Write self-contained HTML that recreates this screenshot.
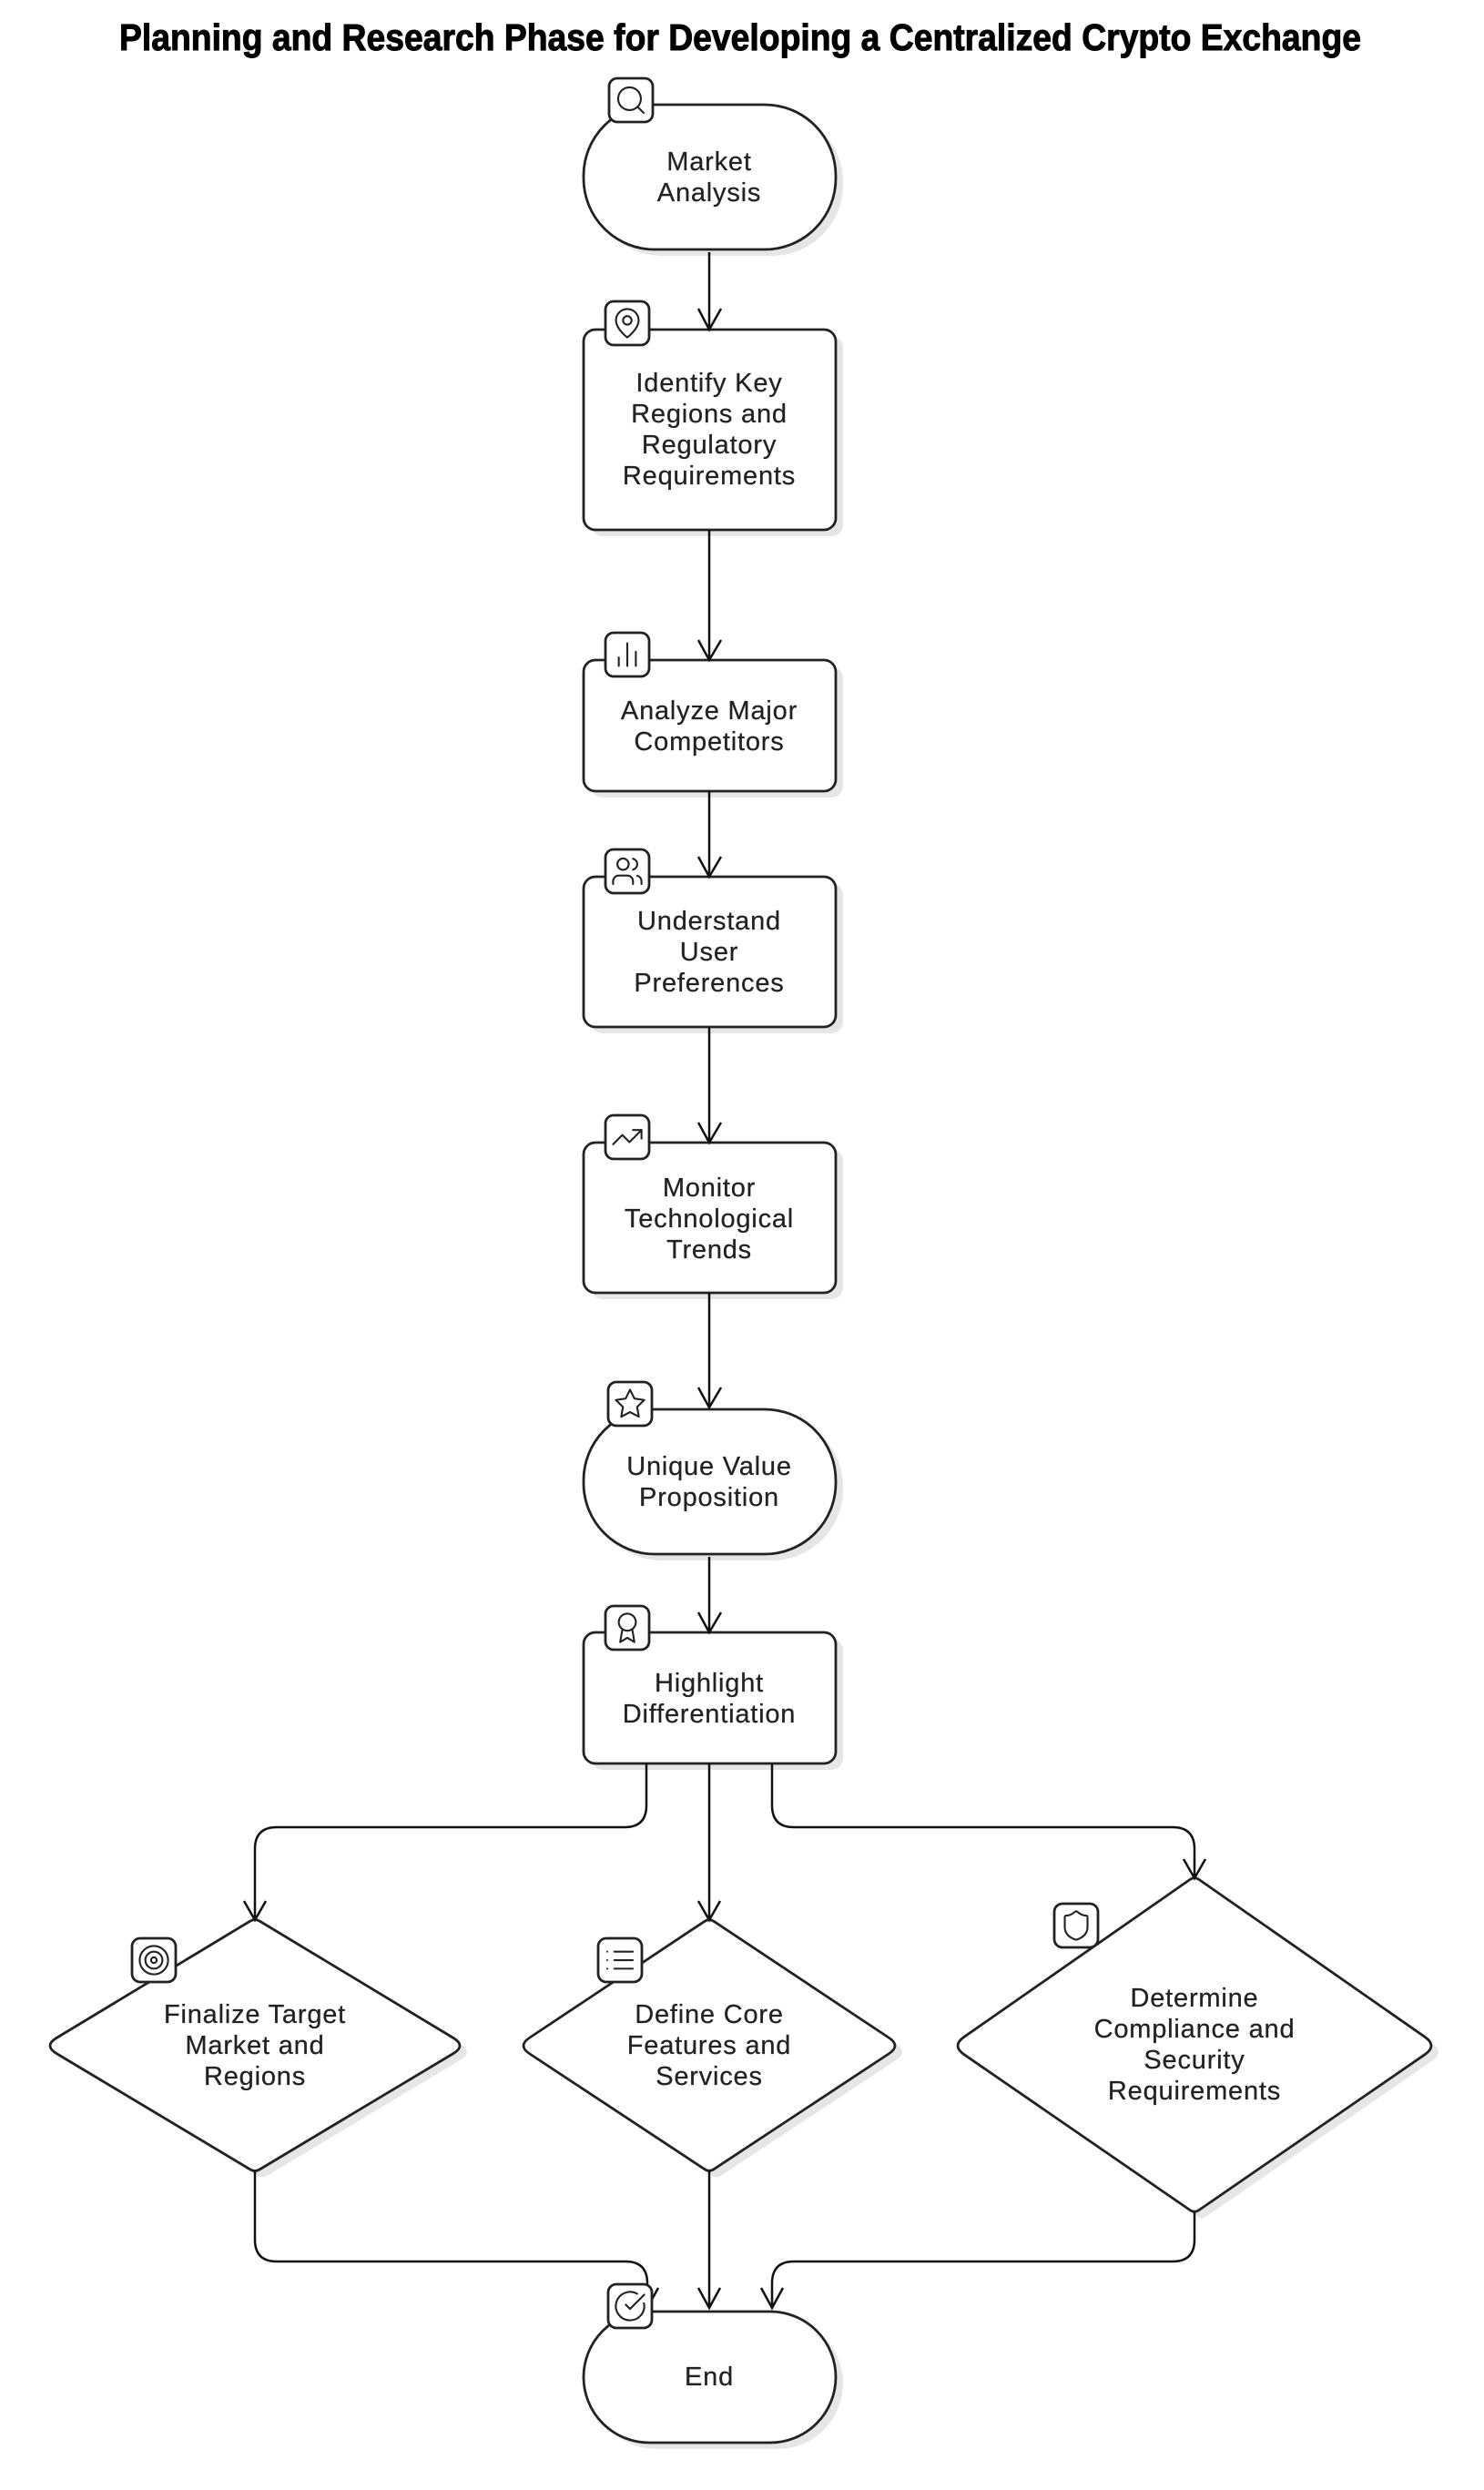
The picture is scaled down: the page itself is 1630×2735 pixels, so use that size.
<!DOCTYPE html>
<html><head><meta charset="utf-8"><style>
html,body{margin:0;padding:0;background:#fff}
svg{display:block}
.t{font-family:"Liberation Sans",sans-serif;font-size:29px;letter-spacing:.8px;fill:#222;stroke:#222;stroke-width:.25;text-anchor:middle}
.ti{font-family:"Liberation Sans",sans-serif;font-size:41px;font-weight:bold;fill:#000;stroke:#000;stroke-width:1;text-anchor:middle}
.n{fill:#fff;stroke:#222;stroke-width:2.8}
.s{fill:#e6e6e6;stroke:none}
.e{fill:none;stroke:#111;stroke-width:2.5}
.b{fill:#fff;stroke:#222;stroke-width:2.8}
.i{fill:none;stroke:#222;stroke-width:1.35;stroke-linecap:round;stroke-linejoin:round}
</style></head><body>
<svg width="1630" height="2735" viewBox="0 0 1630 2735" xmlns="http://www.w3.org/2000/svg">
<rect width="1630" height="2735" fill="#fff"/>
<text class="ti" x="813" y="55" textLength="1364" lengthAdjust="spacingAndGlyphs">Planning and Research Phase for Developing a Centralized Crypto Exchange</text>

<!-- shadows -->
<g class="s" transform="translate(8,7)">
<rect x="641" y="115" width="277" height="159" rx="78" ry="78"/>
<rect x="641" y="362" width="277" height="220" rx="13"/>
<rect x="641" y="725" width="277" height="144" rx="13"/>
<rect x="641" y="963" width="277" height="165" rx="13"/>
<rect x="641" y="1255" width="277" height="165" rx="13"/>
<rect x="641" y="1548" width="277" height="159" rx="78" ry="78"/>
<rect x="641" y="1793" width="277" height="144" rx="13"/>
<rect x="641" y="2539" width="277" height="144" rx="72"/>
<path d="M275,2110 Q280,2107 285,2110 L498,2238.500 Q512,2247 498,2255.500 L285,2383 Q280,2386 275,2383 L62,2255.500 Q48,2247 62,2238.500 Z"/>
<path d="M774,2110.300 Q779,2107 784,2110.300 L976,2238 Q990,2247 976,2256 L784,2382.700 Q779,2386 774,2382.700 L582,2256 Q568,2247 582,2238 Z"/>
<path d="M1307,2064.500 Q1312,2061 1317,2064.500 L1565,2237.300 Q1579,2247 1565,2256.700 L1317,2427.500 Q1312,2431 1307,2427.500 L1059,2256.700 Q1045,2247 1059,2237.300 Z"/>
</g>

<!-- nodes -->
<rect class="n" x="641" y="115" width="277" height="159" rx="78" ry="78"/>
<rect class="n" x="641" y="362" width="277" height="220" rx="13"/>
<rect class="n" x="641" y="725" width="277" height="144" rx="13"/>
<rect class="n" x="641" y="963" width="277" height="165" rx="13"/>
<rect class="n" x="641" y="1255" width="277" height="165" rx="13"/>
<rect class="n" x="641" y="1548" width="277" height="159" rx="78" ry="78"/>
<rect class="n" x="641" y="1793" width="277" height="144" rx="13"/>
<rect class="n" x="641" y="2539" width="277" height="144" rx="72"/>
<path class="n" d="M275,2110 Q280,2107 285,2110 L498,2238.500 Q512,2247 498,2255.500 L285,2383 Q280,2386 275,2383 L62,2255.500 Q48,2247 62,2238.500 Z"/>
<path class="n" d="M774,2110.300 Q779,2107 784,2110.300 L976,2238 Q990,2247 976,2256 L784,2382.700 Q779,2386 774,2382.700 L582,2256 Q568,2247 582,2238 Z"/>
<path class="n" d="M1307,2064.500 Q1312,2061 1317,2064.500 L1565,2237.300 Q1579,2247 1565,2256.700 L1317,2427.500 Q1312,2431 1307,2427.500 L1059,2256.700 Q1045,2247 1059,2237.300 Z"/>

<!-- edges -->
<g class="e">
<path d="M779,277V362M767,339L779,362L792,339"/>
<path d="M779,582V725M767,703L779,725L792,703"/>
<path d="M779,869V963M767,941L779,963L792,941"/>
<path d="M779,1128V1255M767,1233L779,1255L792,1233"/>
<path d="M779,1420V1546M767,1524L779,1546L792,1524"/>
<path d="M779,1710V1793M767,1771L779,1793L792,1771"/>
<path d="M710,1937V1983Q710,2007 686,2007H304Q280,2007 280,2031V2109M268,2088L280,2109L292,2088"/>
<path d="M779,1937V2109M767,2088L779,2109L791,2088"/>
<path d="M848,1937V1983Q848,2007 872,2007H1288Q1312,2007 1312,2031V2063M1300,2042L1312,2063L1324,2042"/>
<path d="M280,2384V2460Q280,2484 304,2484H687Q711,2484 711,2508V2535M699,2513L711,2535L723,2513"/>
<path d="M779,2384V2535M767,2513L779,2535L791,2513"/>
<path d="M1312,2430V2460Q1312,2484 1288,2484H872Q848,2484 848,2508V2535M836,2513L848,2535L860,2513"/>
</g>

<!-- text -->
<g transform="translate(0,-1)">
<text class="t" x="779" y="188">Market</text><text class="t" x="779" y="222">Analysis</text>
<text class="t" x="779" y="431">Identify Key</text><text class="t" x="779" y="465">Regions and</text><text class="t" x="779" y="499">Regulatory</text><text class="t" x="779" y="533">Requirements</text>
<text class="t" x="779" y="791">Analyze Major</text><text class="t" x="779" y="825">Competitors</text>
<text class="t" x="779" y="1022">Understand</text><text class="t" x="779" y="1056">User</text><text class="t" x="779" y="1090">Preferences</text>
<text class="t" x="779" y="1315">Monitor</text><text class="t" x="779" y="1349">Technological</text><text class="t" x="779" y="1383">Trends</text>
<text class="t" x="779" y="1621">Unique Value</text><text class="t" x="779" y="1655">Proposition</text>
<text class="t" x="779" y="1859">Highlight</text><text class="t" x="779" y="1893">Differentiation</text>
<text class="t" x="280" y="2223">Finalize Target</text><text class="t" x="280" y="2257">Market and</text><text class="t" x="280" y="2291">Regions</text>
<text class="t" x="779" y="2223">Define Core</text><text class="t" x="779" y="2257">Features and</text><text class="t" x="779" y="2291">Services</text>
<text class="t" x="1312" y="2205">Determine</text><text class="t" x="1312" y="2239">Compliance and</text><text class="t" x="1312" y="2273">Security</text><text class="t" x="1312" y="2307">Requirements</text>
<text class="t" x="779" y="2621">End</text>
</g>

<!-- icon boxes -->
<rect class="b" x="669" y="86" width="48" height="48" rx="9"/>
<rect class="b" x="665" y="331" width="48" height="48" rx="9"/>
<rect class="b" x="665" y="695" width="48" height="48" rx="9"/>
<rect class="b" x="665" y="933" width="48" height="48" rx="9"/>
<rect class="b" x="665" y="1225" width="48" height="48" rx="9"/>
<rect class="b" x="668" y="1518" width="48" height="48" rx="9"/>
<rect class="b" x="665" y="1764" width="48" height="48" rx="9"/>
<rect class="b" x="145" y="2129" width="48" height="48" rx="9"/>
<rect class="b" x="657" y="2129" width="48" height="48" rx="9"/>
<rect class="b" x="1158" y="2091" width="48" height="48" rx="9"/>
<rect class="b" x="668" y="2509" width="48" height="48" rx="9"/>

<!-- icons -->
<g class="i">
<g transform="translate(674.300,91.300) scale(1.56)"><circle cx="11" cy="11" r="8"/><path d="M21 21l-4.350-4.350"/></g>
<g transform="translate(670.300,336.300) scale(1.56)"><path d="M20 10c0 6-8 12-8 12s-8-6-8-12a8 8 0 0 1 16 0Z"/><circle cx="12" cy="10" r="3"/></g>
<g transform="translate(670.300,700.300) scale(1.56)"><path d="M18 20V10M12 20V4M6 20v-6"/></g>
<g transform="translate(670.300,938.300) scale(1.56)"><path d="M16 21v-2a4 4 0 0 0-4-4H6a4 4 0 0 0-4 4v2"/><circle cx="9" cy="7" r="4"/><path d="M22 21v-2a4 4 0 0 0-3-3.870"/><path d="M16 3.130a4 4 0 0 1 0 7.750"/></g>
<g transform="translate(670.300,1230.300) scale(1.56)"><path d="M22 7L13.500 15.500L8.500 10.500L2 17"/><path d="M16 7H22V13"/></g>
<g transform="translate(673.300,1523.300) scale(1.56)"><path d="M12 2L15.090 8.260L22 9.270L17 14.140L18.180 21.020L12 17.770L5.820 21.020L7 14.140L2 9.270L8.910 8.260Z"/></g>
<g transform="translate(670.300,1769.300) scale(1.56)"><circle cx="12" cy="8" r="6"/><path d="M15.477 12.890 17 22l-5-3-5 3 1.523-9.110"/></g>
<g transform="translate(150.300,2134.300) scale(1.56)"><circle cx="12" cy="12" r="10"/><circle cx="12" cy="12" r="6"/><circle cx="12" cy="12" r="2"/></g>
<g transform="translate(662.300,2134.300) scale(1.56)"><path d="M8 6h13M8 12h13M8 18h13M3 6h.010M3 12h.010M3 18h.010"/></g>
<g transform="translate(1163.300,2096.300) scale(1.56)"><path d="M20 13c0 5-3.500 7.500-7.660 8.950a1 1 0 0 1-.670-.010C7.500 20.500 4 18 4 13V6a1 1 0 0 1 1-1c2 0 4.500-1.200 6.240-2.720a1.170 1.170 0 0 1 1.520 0C14.510 3.810 17 5 19 5a1 1 0 0 1 1 1z"/></g>
<g transform="translate(673.300,2514.300) scale(1.56)"><path d="M21.801 10A10 10 0 1 1 17 3.335"/><path d="M9 11l3 3L22 4"/></g>
</g>
</svg>
</body></html>
